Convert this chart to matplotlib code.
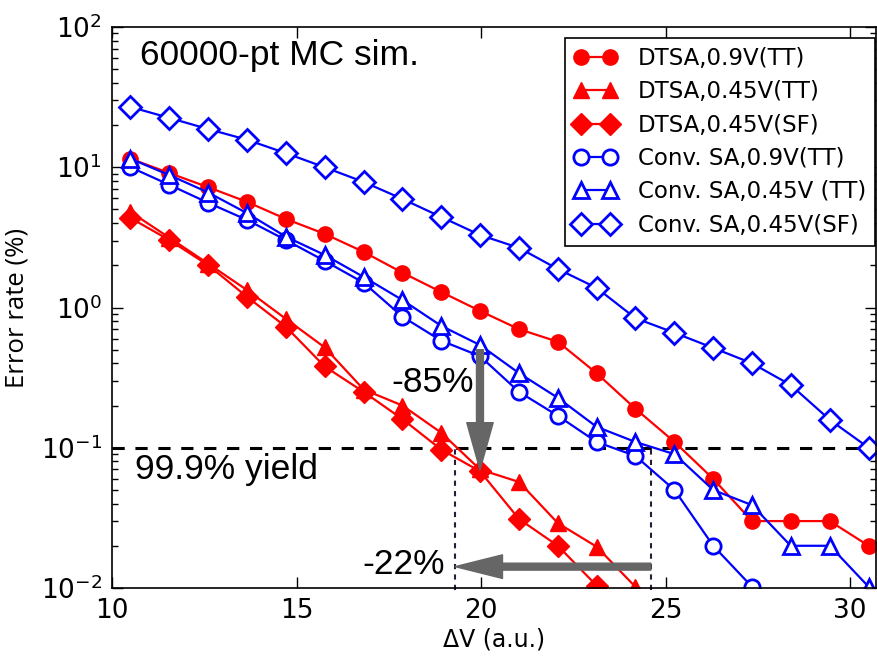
import matplotlib
matplotlib.use("Agg")
import matplotlib.pyplot as plt
from matplotlib.ticker import LogLocator, NullFormatter

plt.rcParams["font.family"] = ["DejaVu Sans"]

# ---- data ----
dv = [10.5, 11.55, 12.61, 13.66, 14.71, 15.76, 16.82, 17.87, 18.92, 19.97,
      21.03, 22.08, 23.13, 24.18, 25.24, 26.29, 27.34, 28.39, 29.45, 30.5]

dtsa_09_tt = [11.5, 9.1, 7.2, 5.66, 4.28, 3.35, 2.49, 1.77, 1.29, 0.946,
              0.70, 0.57, 0.34, 0.19, 0.11, 0.06, 0.030, 0.030, 0.030, 0.020]
dtsa_045_tt = [4.8, 3.15, 2.05, 1.33, 0.83, 0.52, 0.26, 0.20, 0.128, 0.07,
               0.057, 0.029, 0.0197, 0.0102]
dtsa_045_sf = [4.35, 3.03, 2.0, 1.19, 0.73, 0.38, 0.25, 0.16, 0.097, 0.068,
               0.031, 0.020, 0.0104]
conv_09_tt = [10.0, 7.5, 5.57, 4.21, 3.03, 2.15, 1.50, 0.86, 0.58, 0.45,
              0.25, 0.169, 0.11, 0.0875, 0.050, 0.020, 0.0102]
conv_045_tt = [11.5, 8.8, 6.6, 4.7, 3.2, 2.37, 1.65, 1.13, 0.74, 0.54,
               0.34, 0.227, 0.141, 0.11, 0.09, 0.05, 0.039, 0.02, 0.02, 0.0102]
conv_045_sf = [26.9, 22.5, 18.7, 15.7, 12.6, 10.0, 7.85, 5.94, 4.42, 3.29,
               2.66, 1.88, 1.38, 0.84, 0.66, 0.515, 0.40, 0.28, 0.158, 0.10]

labels = ["DTSA,0.9V(TT)", "DTSA,0.45V(TT)", "DTSA,0.45V(SF)",
          "Conv. SA,0.9V(TT)", "Conv. SA,0.45V (TT)", "Conv. SA,0.45V(SF)"]

yield_level = 0.1
dv_dtsa_yield = 19.3
dv_conv_yield = 24.6
arrow_down_x = 19.97
arrow_down_from = 0.5
arrow_down_to = 0.0695
arrow_left_y = 0.0142

# ---- figure ----
fig = plt.figure(figsize=(8.77, 6.56), dpi=100)
ax = fig.add_axes([112/877, 1-588/656, (876-112)/877, (588-27)/656])

RED = "#ff0000"
BLUE = "#0000ff"
ms = 11
lw = 1.6
mew = 2

ax.plot(dv[:len(dtsa_09_tt)], dtsa_09_tt, color=RED, marker="o", ms=ms, lw=lw,
        mec=RED, mfc=RED, label=labels[0])
ax.plot(dv[:len(dtsa_045_tt)], dtsa_045_tt, color=RED, marker="^", ms=ms, lw=lw,
        mec=RED, mfc=RED, label=labels[1])
ax.plot(dv[:len(dtsa_045_sf)], dtsa_045_sf, color=RED, marker="D", ms=ms, lw=lw,
        mec=RED, mfc=RED, label=labels[2])
ax.plot(dv[:len(conv_09_tt)], conv_09_tt, color=BLUE, marker="o", ms=ms, lw=lw,
        mec=BLUE, mfc="white", mew=mew, label=labels[3])
ax.plot(dv[:len(conv_045_tt)], conv_045_tt, color=BLUE, marker="^", ms=ms, lw=lw,
        mec=BLUE, mfc="white", mew=mew, label=labels[4])
ax.plot(dv[:len(conv_045_sf)], conv_045_sf, color=BLUE, marker="D", ms=ms, lw=lw,
        mec=BLUE, mfc="white", mew=mew, label=labels[5])

ax.set_yscale("log")
ax.set_xlim(10, 30.7)
ax.set_ylim(0.01, 100)

# yield line
ax.axhline(yield_level, color="black", lw=2.2, ls=(0, (4, 3.5)), zorder=1)
ax.plot([dv_dtsa_yield, dv_dtsa_yield], [0.0097, yield_level], color="#2b1b38",
        lw=1.5, ls=(0, (2.5, 2.5)), clip_on=False, zorder=1)
ax.plot([dv_conv_yield, dv_conv_yield], [0.0097, yield_level], color="#2b1b38",
        lw=1.5, ls=(0, (2.5, 2.5)), clip_on=False, zorder=1)

# arrows
GRAY = "#666666"
ax.annotate("", xy=(arrow_down_x, arrow_down_to), xytext=(arrow_down_x, arrow_down_from),
            arrowprops=dict(facecolor=GRAY, edgecolor=GRAY, width=5, headwidth=19,
                            headlength=34, shrink=0), zorder=5)
ax.annotate("", xy=(dv_dtsa_yield, arrow_left_y), xytext=(dv_conv_yield, arrow_left_y),
            arrowprops=dict(facecolor=GRAY, edgecolor=GRAY, width=5, headwidth=17,
                            headlength=34, shrink=0), zorder=5)

tfont = dict(family=["Liberation Sans", "DejaVu Sans"], fontsize=25.5)
ax.text(10.75, 63, "60000-pt MC sim.", va="center", ha="left", **tfont)
ax.text(10.62, 0.0695, "99.9% yield", va="center", ha="left", **tfont)
ax.text(19.8, 0.29, "-85%", va="center", ha="right", **tfont)
ax.text(19.02, 0.0146, "-22%", va="center", ha="right", **tfont)

# ticks
ax.set_xticks([10, 15, 20, 25, 30])
ax.yaxis.set_major_locator(LogLocator(base=10, numticks=10))
ax.yaxis.set_minor_locator(LogLocator(base=10, subs=range(2, 10), numticks=20))
ax.yaxis.set_minor_formatter(NullFormatter())
ax.tick_params(which="both", direction="in", top=True, right=True)
ax.tick_params(which="major", length=8, width=1, labelsize=19, pad=7)
ax.tick_params(which="minor", length=4, width=1)
for sp in ax.spines.values():
    sp.set_linewidth(1.2)

ax.set_xlabel("ΔV (a.u.)", fontsize=17, family="DejaVu Sans", labelpad=3)
ax.set_ylabel("Error rate (%)", fontsize=18.5, family="Open Sans", labelpad=8)

leg = ax.legend(loc="upper right", bbox_to_anchor=((875-112)/764, (588-38)/561),
                borderaxespad=0, numpoints=2, handlelength=1.83, handletextpad=0.92,
                labelspacing=0.45, borderpad=0.4, fancybox=False, framealpha=1,
                edgecolor="black", prop={"family": "DejaVu Sans", "size": 16.5})
leg.get_frame().set_linewidth(1.2)

fig.savefig("out.png", dpi=100)
